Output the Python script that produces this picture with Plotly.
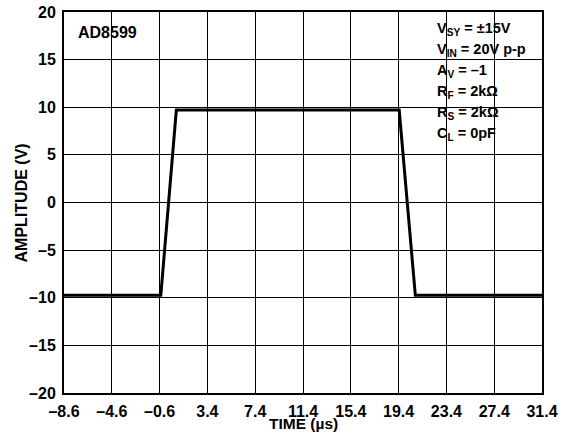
import plotly.graph_objects as go

# waveform
time_us = [-8.6, -0.5, 0.8, 19.45, 20.8, 31.4]
amplitude_v = [-9.75, -9.75, 9.7, 9.7, -9.75, -9.75]

x_ticks = [-8.6, -4.6, -0.6, 3.4, 7.4, 11.4, 15.4, 19.4, 23.4, 27.4, 31.4]
y_ticks = [-20, -15, -10, -5, 0, 5, 10, 15, 20]

conditions = [
    "V<sub>SY</sub> = ±15V",
    "V<sub>IN</sub> = 20V p-p",
    "A<sub>V</sub> = –1",
    "R<sub>F</sub> = 2kΩ",
    "R<sub>S</sub> = 2kΩ",
    "C<sub>L</sub> = 0pF",
]


def fmt(v):
    s = f"{v:g}" if isinstance(v, int) else f"{v:.1f}"
    return s.replace("-", "–")


FONT = "Liberation Sans, Arial, sans-serif"
bold = dict(color="black", family=FONT, weight="bold")

fig = go.Figure()
fig.add_trace(go.Scatter(x=time_us, y=amplitude_v, mode="lines",
                         line=dict(color="black", width=3), showlegend=False))

fig.update_xaxes(range=[-8.6, 31.4], tickvals=x_ticks, ticktext=[fmt(v) for v in x_ticks],
                 showgrid=True, gridcolor="black", gridwidth=1, zeroline=False,
                 showline=True, linecolor="black", linewidth=2, mirror=True,
                 ticks="", ticklen=0, ticklabelstandoff=3, automargin=False,
                 tickfont=dict(size=16, **bold))
fig.update_yaxes(range=[-20, 20], tickvals=y_ticks, ticktext=[fmt(v) for v in y_ticks],
                 showgrid=True, gridcolor="black", gridwidth=1, zeroline=False,
                 showline=True, linecolor="black", linewidth=2, mirror=True,
                 ticks="", ticklen=0, ticklabelstandoff=3, automargin=False,
                 tickfont=dict(size=16, **bold))

# axis titles as annotations so they sit tight to the tick labels
fig.add_annotation(text="<b>TIME (µs)</b>", xref="paper", yref="paper", x=0.5, y=-0.079,
                   xanchor="center", yanchor="middle", showarrow=False,
                   font=dict(size=15.5, **bold))
fig.add_annotation(text="<b>AMPLITUDE (V)</b>", xref="paper", yref="paper", x=-0.088, y=0.5,
                   xanchor="center", yanchor="middle", textangle=-90, showarrow=False,
                   font=dict(size=16, **bold))

# white boxes behind the labels hide the grid
fig.add_shape(type="rect", xref="paper", yref="paper", x0=0, x1=0.159, y0=0.905, y1=1,
              fillcolor="white", line_width=0, layer="between")
fig.add_shape(type="rect", xref="paper", yref="paper", x0=0.764, x1=1, y0=0.638, y1=0.993,
              fillcolor="white", line_width=0, layer="between")

fig.add_annotation(text="AD8599", xref="paper", yref="paper", x=0.025, y=0.946,
                   xanchor="left", yanchor="middle", showarrow=False,
                   font=dict(size=16, **bold))
for i, line in enumerate(conditions):
    fig.add_annotation(text=line, xref="paper", yref="paper",
                       x=0.776, y=0.955 - i * 0.0551, xanchor="left", yanchor="middle",
                       showarrow=False, font=dict(size=14.5, **bold))

fig.update_layout(width=573, height=446, margin=dict(l=64, r=31, t=12, b=53),
                  plot_bgcolor="white", paper_bgcolor="white",
                  font=dict(family=FONT, color="black"))
# drop the default page margin so the figure fills the window exactly
fig.write_html("out.html", config={"displayModeBar": False},
               post_script="document.body.style.margin='0px';")
